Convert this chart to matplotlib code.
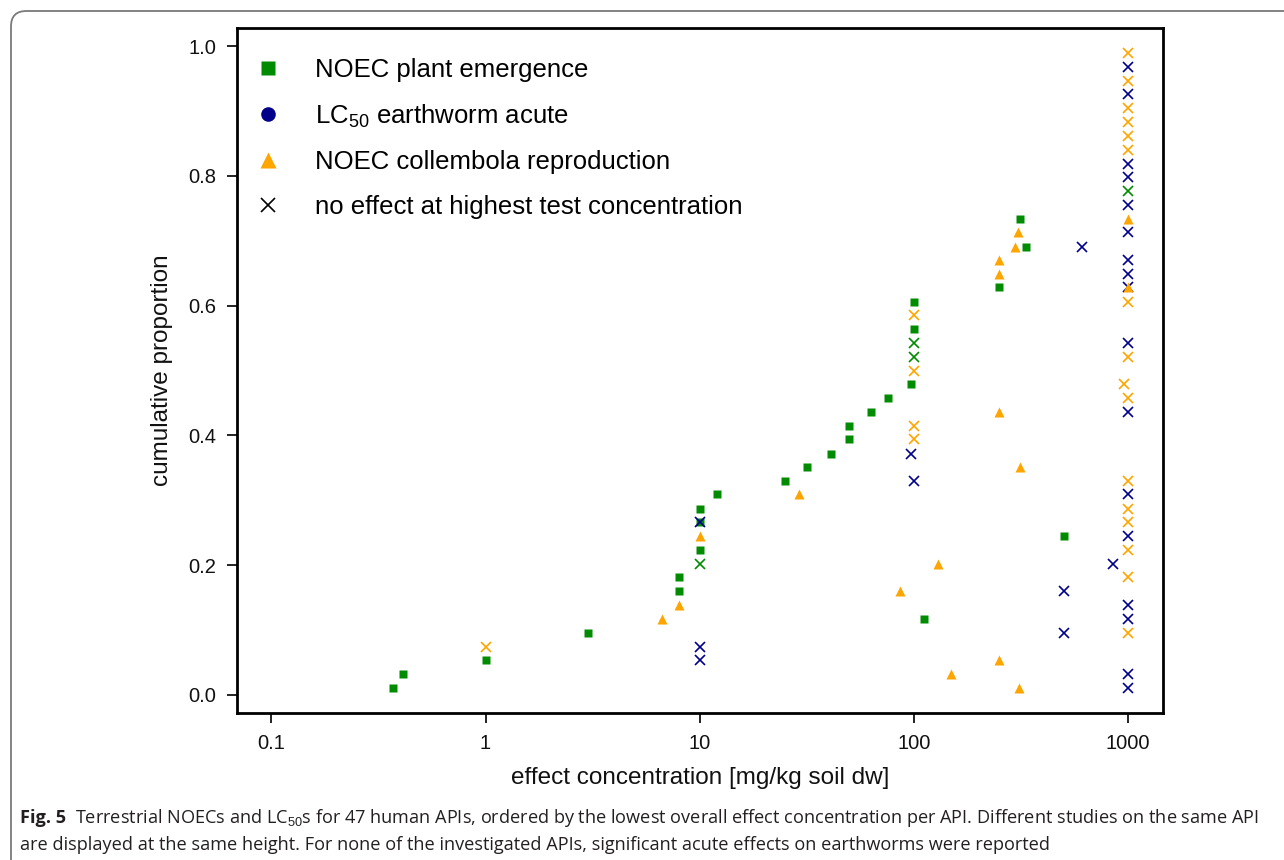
import matplotlib
matplotlib.use("Agg")
import matplotlib.pyplot as plt
from matplotlib.lines import Line2D
from matplotlib.patches import FancyBboxPatch

plt.rcParams["font.family"] = ["Liberation Sans", "DejaVu Sans"]
plt.rcParams["mathtext.fontset"] = "custom"
plt.rcParams["mathtext.rm"] = "Liberation Sans"
plt.rcParams["mathtext.it"] = "Liberation Sans:italic"

# plant emergence NOECs (green squares)
plant_conc = [0.37, 0.41, 1.0, 3.0, 111, 8, 8, 10, 500, 10, 10, 12.1, 25, 31.7,
              41, 50, 50, 63, 76, 97, 100, 100, 249, 333, 314]
plant_prop = [0.011, 0.032, 0.053, 0.096, 0.117, 0.160, 0.181, 0.223, 0.245, 0.266,
              0.287, 0.309, 0.330, 0.351, 0.372, 0.394, 0.415, 0.436, 0.457, 0.479,
              0.564, 0.606, 0.628, 0.691, 0.734]
# plant, no effect at highest concentration
plant_ne_conc = [10, 100, 100, 1000]
plant_ne_prop = [0.202, 0.521, 0.543, 0.777]

# earthworm, no effect at highest concentration
worm_ne_conc = [1000, 1000, 10, 10, 500, 1000, 1000, 500, 850, 1000, 10, 1000, 100,
                96.5, 1000, 1000, 1000, 1000, 1000, 609, 1000, 1000, 1000, 1000, 1000, 1000]
worm_ne_prop = [0.011, 0.032, 0.053, 0.074, 0.096, 0.117, 0.138, 0.160, 0.202, 0.245,
                0.266, 0.309, 0.330, 0.372, 0.436, 0.543, 0.628, 0.649, 0.670, 0.691,
                0.713, 0.755, 0.798, 0.819, 0.926, 0.968]

# collembola reproduction NOECs (orange triangles)
coll_conc = [308, 149, 249, 6.7, 8, 86, 129, 10, 29, 314, 249, 1000, 249, 249, 297, 306, 1000]
coll_prop = [0.011, 0.032, 0.053, 0.117, 0.138, 0.160, 0.202, 0.245, 0.309, 0.351,
             0.436, 0.628, 0.649, 0.670, 0.691, 0.713, 0.734]
# collembola, no effect at highest concentration
coll_ne_conc = [1, 1000, 1000, 1000, 1000, 1000, 1000, 100, 100, 1000, 960, 100, 1000,
                100, 1000, 1000, 1000, 1000, 1000, 1000, 1000]
coll_ne_prop = [0.074, 0.096, 0.181, 0.223, 0.266, 0.287, 0.330, 0.394, 0.415, 0.457,
                0.479, 0.500, 0.521, 0.585, 0.606, 0.840, 0.862, 0.883, 0.904, 0.947, 0.989]

GREEN = "#008B00"
NAVY = "#00008B"
ORANGE = "#FFA500"

fig = plt.figure(figsize=(12.84, 8.6), dpi=100)
ax = fig.add_axes([237 / 1284, 1 - 713 / 860, 925.5 / 1284, 685 / 860])

ax.plot(plant_conc, plant_prop, "s", color=GREEN, ms=6, mec="none", ls="none")
ax.plot(plant_ne_conc, plant_ne_prop, "x", color=GREEN, ms=6.5, mew=1.2, ls="none")
ax.plot(worm_ne_conc, worm_ne_prop, "x", color=NAVY, ms=6.5, mew=1.2, ls="none")
ax.plot(coll_conc, coll_prop, "^", color=ORANGE, ms=7, mec="none", ls="none")
ax.plot(coll_ne_conc, coll_ne_prop, "x", color=ORANGE, ms=6.5, mew=1.2, ls="none")

ax.set_xscale("log")
ax.set_xlim(10 ** -1.16, 10 ** 3.16)
ax.set_ylim(-0.028, 1.028)
ax.set_xticks([0.1, 1, 10, 100, 1000])
ax.set_xticklabels(["0.1", "1", "10", "100", "1000"])
ax.minorticks_off()
ax.set_yticks([0, 0.2, 0.4, 0.6, 0.8, 1.0])
ax.set_yticklabels(["0.0", "0.2", "0.4", "0.6", "0.8", "1.0"])
ax.tick_params(direction="out", length=7, width=1.3, labelsize=14.5, pad=8, colors="#111111")
for sp in ax.spines.values():
    sp.set_linewidth(2.0)

ax.set_xlabel("effect concentration [mg/kg soil dw]", fontsize=17.5, labelpad=10, color="#111111")
ax.set_ylabel("cumulative proportion", fontsize=17.5, labelpad=11, color="#111111")

handles = [
    Line2D([], [], marker="s", color=GREEN, ls="none", ms=9.5, mec="none"),
    Line2D([], [], marker="o", color=NAVY, ls="none", ms=10.5, mec="none"),
    Line2D([], [], marker="^", color=ORANGE, ls="none", ms=11.5, mec="none"),
    Line2D([], [], marker="x", color="black", ls="none", ms=9.5, mew=1.2),
]
labels = ["NOEC plant emergence", "LC$_{50}$ earthworm acute",
          "NOEC collembola reproduction", "no effect at highest test concentration"]
ax.legend(handles, labels, loc="upper left", bbox_to_anchor=(0, 0.979), frameon=False,
          fontsize=18.5, borderpad=0.6, borderaxespad=0, handlelength=1.2,
          handletextpad=1.24, labelspacing=0.8)

# rounded border of the figure panel
fig.patches.append(FancyBboxPatch((11 / 1284, -0.2), 1.3, 1.2 - 11 / 860,
                                  boxstyle="round,pad=0,rounding_size=0.012",
                                  transform=fig.transFigure, fill=False,
                                  ec="#7a7a7a", lw=1.3, mutation_aspect=1284 / 860))

cap_font = ["Open Sans", "Noto Sans", "DejaVu Sans"]
cap_col = "#231F20"
cap_size = 13.1
fig.canvas.draw()
r = fig.canvas.get_renderer()
t0 = fig.text(20 / 1284, 1 - 818 / 860, "Fig. 5", fontsize=cap_size, fontweight="bold",
              family=cap_font, color=cap_col, va="center")
bb = t0.get_window_extent(renderer=r)
fig.text((bb.x1 + 9) / 1284, 1 - 818 / 860,
         "Terrestrial NOECs and LC$_{50}$s for 47 human APIs, ordered by the lowest overall "
         "effect concentration per API. Different studies on the same API",
         fontsize=cap_size, family=cap_font, color=cap_col, va="center")
fig.text(20 / 1284, 1 - 845 / 860,
         "are displayed at the same height. For none of the investigated APIs, significant "
         "acute effects on earthworms were reported",
         fontsize=cap_size, family=cap_font, color=cap_col, va="center")

fig.savefig("out.png", dpi=100)
